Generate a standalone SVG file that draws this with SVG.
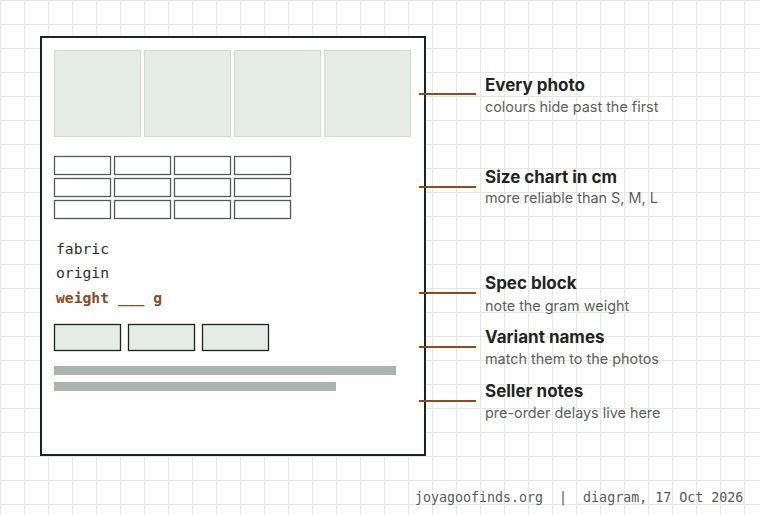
<svg xmlns="http://www.w3.org/2000/svg" width="760" height="515" viewBox="0 0 760 515">
<style>
.photo{fill:#e5ebe7;stroke:#d3d9d5;stroke-width:1}
.cell{fill:#ffffff;stroke:#555a57;stroke-width:1.3}
.btn{fill:#e5ebe7;stroke:#1a2421;stroke-width:1.3}
.bar{fill:#abb3ae}
.mono{font-family:"DejaVu Sans Mono","Liberation Mono",monospace;font-size:14.7px;fill:#2a2f2c}
.accent{fill:#8b4a20;font-weight:bold}
.lead{stroke:#8b4a20;stroke-width:2;fill:none}
.title{font-family:Inter,"Liberation Sans",sans-serif;font-weight:bold;font-size:17px;fill:#1f2622}
.sub{font-family:Inter,"Liberation Sans",sans-serif;font-size:14.4px;fill:#5a5f5c}
.foot{font-family:"DejaVu Sans Mono","Liberation Mono",monospace;font-size:13.3px;fill:#555a57}
</style>
<defs>
<pattern id="grid" width="24" height="24" patternUnits="userSpaceOnUse">
<path d="M0.5 0V24M0 0.5H24" stroke="#e6e6e6" stroke-width="1" fill="none"/>
</pattern>
</defs>
<rect width="760" height="515" fill="#ffffff"/>
<rect width="760" height="515" fill="url(#grid)"/>
<g id="page">
<rect x="41" y="37" width="384" height="418" fill="#fefefe" stroke="#1a2421" stroke-width="2"/>
</g>
<g id="photos">
<rect class="photo" x="54.5" y="50.5" width="86" height="86"/>
<rect class="photo" x="144.5" y="50.5" width="86" height="86"/>
<rect class="photo" x="234.5" y="50.5" width="86" height="86"/>
<rect class="photo" x="324.5" y="50.5" width="86" height="86"/>
</g>
<g id="size-chart">
<rect class="cell" x="54.5" y="156.5" width="56" height="18"/>
<rect class="cell" x="114.5" y="156.5" width="56" height="18"/>
<rect class="cell" x="174.5" y="156.5" width="56" height="18"/>
<rect class="cell" x="234.5" y="156.5" width="56" height="18"/>
<rect class="cell" x="54.5" y="178.5" width="56" height="18"/>
<rect class="cell" x="114.5" y="178.5" width="56" height="18"/>
<rect class="cell" x="174.5" y="178.5" width="56" height="18"/>
<rect class="cell" x="234.5" y="178.5" width="56" height="18"/>
<rect class="cell" x="54.5" y="200.5" width="56" height="18"/>
<rect class="cell" x="114.5" y="200.5" width="56" height="18"/>
<rect class="cell" x="174.5" y="200.5" width="56" height="18"/>
<rect class="cell" x="234.5" y="200.5" width="56" height="18"/>
</g>
<g id="spec-block">
<text class="mono" x="56" y="254">fabric</text>
<text class="mono" x="56" y="278">origin</text>
<text class="mono accent" x="56" y="303">weight ___ g</text>
</g>
<g id="variants">
<rect class="btn" x="54.5" y="324.5" width="66" height="26"/>
<rect class="btn" x="128.5" y="324.5" width="66" height="26"/>
<rect class="btn" x="202.5" y="324.5" width="66" height="26"/>
</g>
<g id="seller-notes">
<rect class="bar" x="54" y="366" width="342" height="9"/>
<rect class="bar" x="54" y="382" width="282" height="9"/>
</g>
<g id="connectors">
<line class="lead" x1="419" y1="94" x2="476" y2="94"/>
<line class="lead" x1="419" y1="187" x2="476" y2="187"/>
<line class="lead" x1="419" y1="293" x2="476" y2="293"/>
<line class="lead" x1="419" y1="347" x2="476" y2="347"/>
<line class="lead" x1="419" y1="401" x2="476" y2="401"/>
</g>
<g id="label-photos">
<text class="title" x="485" y="91">Every photo</text>
<text class="sub" x="485" y="112">colours hide past the first</text>
</g>
<g id="label-size">
<text class="title" x="485" y="183">Size chart in cm</text>
<text class="sub" x="485" y="203">more reliable than S, M, L</text>
</g>
<g id="label-spec">
<text class="title" x="485" y="289">Spec block</text>
<text class="sub" x="485" y="310.5">note the gram weight</text>
</g>
<g id="label-variants">
<text class="title" x="485" y="343">Variant names</text>
<text class="sub" x="485" y="364">match them to the photos</text>
</g>
<g id="label-notes">
<text class="title" x="485" y="397">Seller notes</text>
<text class="sub" x="485" y="418">pre-order delays live here</text>
</g>
<g id="footer">
<text class="foot" x="415" y="502" xml:space="preserve">joyagoofinds.org  |  diagram, 17 Oct 2026</text>
</g>
</svg>
